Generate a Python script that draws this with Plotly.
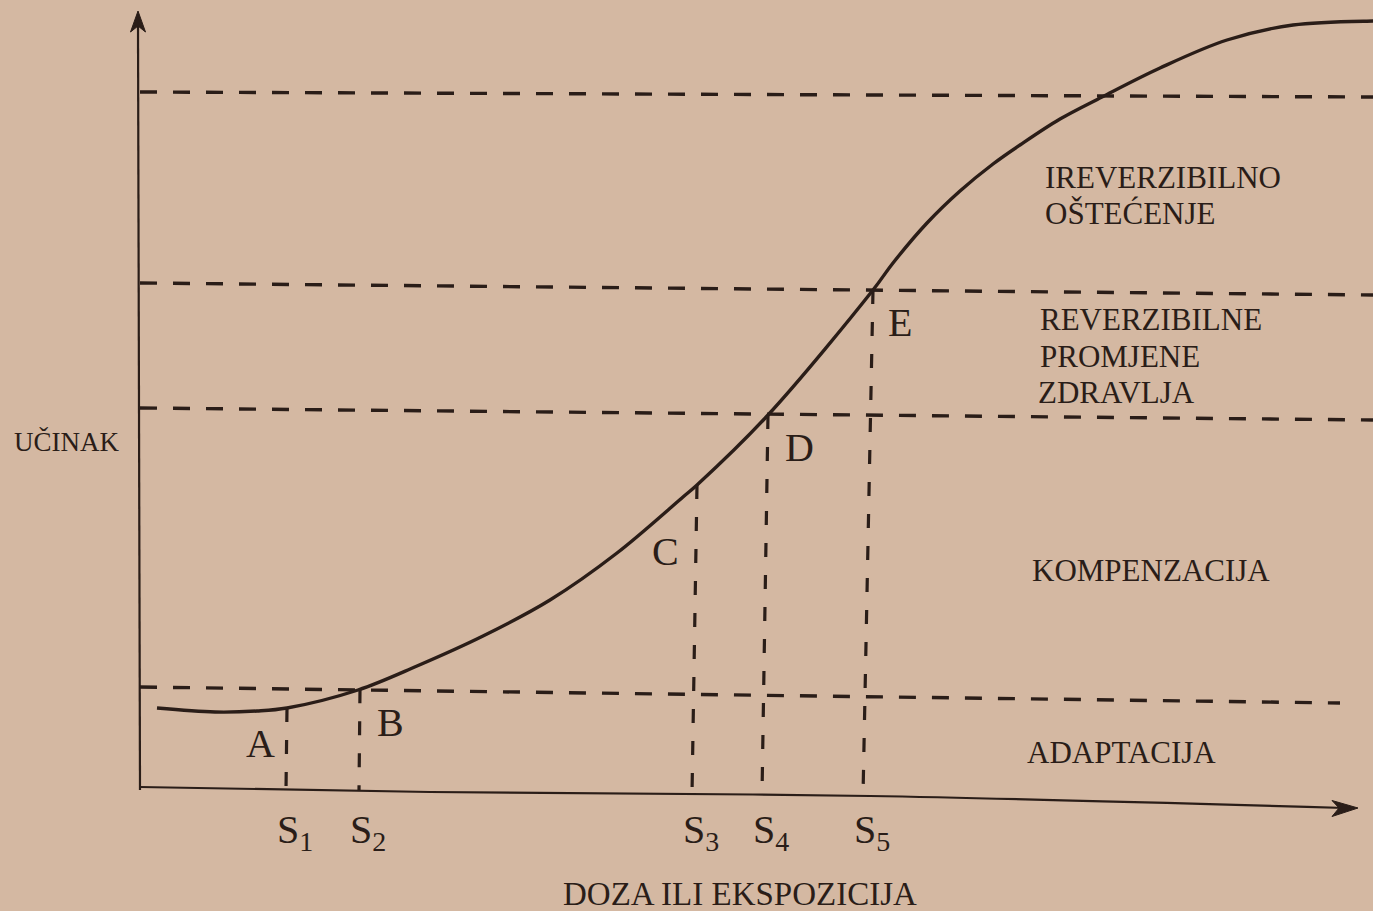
import numpy as np
import plotly.graph_objects as go

# Dose-response curve: dose (x) vs. effect (y), arbitrary units
dose = [0.14, 0.72, 1.14, 1.44, 2.15, 2.74, 3.40, 4.07, 4.74, 5.40, 5.54, 6.25,
        7.30, 7.50, 7.84, 8.17, 8.50, 8.77, 9.17, 9.59, 10.17, 10.84, 11.50, 12.30, 12.45]
effect = [0.82, 0.78, 0.79, 0.82, 1.00, 1.24, 1.54, 1.90, 2.37, 2.93, 3.05, 3.75,
          5.00, 5.27, 5.67, 5.99, 6.26, 6.45, 6.71, 6.93, 7.22, 7.50, 7.65, 7.69, 7.69]

# Effect thresholds separating the zones (horizontal dashed lines)
threshold_effect = [6.98, 5.07, 3.82, 1.03]
threshold_end = [12.30, 12.30, 12.30, 11.97]
threshold_sag = [0.05, 0.12, 0.12, 0.16]      # page sag at the right end

# Characteristic doses S1..S5 and the points A..E on the curve
s_dose = [1.44, 2.17, 5.54, 6.25, 7.30]
s_labels = ["S<sub>1</sub>", "S<sub>2</sub>", "S<sub>3</sub>", "S<sub>4</sub>", "S<sub>5</sub>"]
point_labels = ["A", "B", "C", "D", "E"]
s_foot_shift = [-0.01, -0.01, -0.05, -0.06, -0.10]

# Zone names
zone_lines = ["IREVERZIBILNO", "OŠTEĆENJE", "REVERZIBILNE", "PROMJENE", "ZDRAVLJA",
              "KOMPENZACIJA", "ADAPTACIJA"]

x_title = "DOZA ILI EKSPOZICIJA"
y_title = "UČINAK"

INK = "#2a1d18"
PAPER = "#d4b8a2"
FONT = "Liberation Serif, Times New Roman, serif"

# x-axis baseline as printed (slightly sagging toward the right)
axis_x = [-0.03, 2.87, 7.27, 12.02]
axis_y = [0.03, -0.02, -0.06, -0.18]

fig = go.Figure()

# threshold lines
for yv, xe, sag in zip(threshold_effect, threshold_end, threshold_sag):
    fig.add_trace(go.Scatter(
        x=[-0.03, xe], y=[yv, yv - sag], mode="lines",
        line=dict(color=INK, width=3.4, dash="17px,16px"),
        hoverinfo="skip", showlegend=False))

# vertical drop lines from the curve to the dose axis
s_effect = np.interp(s_dose, dose, effect)
for sx, sy, fs in zip(s_dose, s_effect, s_foot_shift):
    foot_x = sx + fs
    foot_y = float(np.interp(foot_x, axis_x, axis_y))
    fig.add_trace(go.Scatter(
        x=[sx, foot_x], y=[sy, foot_y], mode="lines",
        line=dict(color=INK, width=3.2, dash="14px,18px"),
        hoverinfo="skip", showlegend=False))

# dose-response curve
fig.add_trace(go.Scatter(
    x=dose, y=effect, mode="lines",
    line=dict(color=INK, width=3.4, shape="spline", smoothing=1.0),
    hoverinfo="skip", showlegend=False))

# axes lines
fig.add_trace(go.Scatter(
    x=axis_x, y=axis_y, mode="lines",
    line=dict(color=INK, width=2.2, shape="spline", smoothing=1.0),
    hoverinfo="skip", showlegend=False))
fig.add_trace(go.Scatter(
    x=[-0.03, -0.05], y=[0.0, 7.64], mode="lines",
    line=dict(color=INK, width=2.2), hoverinfo="skip", showlegend=False))

# arrowheads
fig.add_shape(type="path", xref="x", yref="y",
              path="M -0.05,7.79 L -0.125,7.58 L -0.05,7.64 L 0.025,7.58 Z",
              fillcolor=INK, line=dict(color=INK, width=1))
fig.add_shape(type="path", xref="x", yref="y",
              path="M 12.15,-0.18 L 11.89,-0.105 L 11.96,-0.18 L 11.89,-0.265 Z",
              fillcolor=INK, line=dict(color=INK, width=1))

# point letters A..E
point_shift = [(-27, -35), (30, -33), (-32, -66), (31, -32), (27, -32)]
for lab, sx, sy, (dx, dy) in zip(point_labels, s_dose, s_effect, point_shift):
    fig.add_annotation(x=sx, y=sy, text=lab, showarrow=False,
                       xshift=dx, yshift=dy,
                       font=dict(family=FONT, size=40, color=INK))

# S labels beneath the axis
for lab, sx, fs in zip(s_labels, s_dose, s_foot_shift):
    fig.add_annotation(x=sx + fs, y=-0.42, text=lab, showarrow=False,
                       xshift=9, xanchor="center", yanchor="middle",
                       font=dict(family=FONT, size=40, color=INK))

# zone names (left aligned)
zone_pos = [(9.00, 6.13), (9.00, 5.77), (8.95, 4.71), (8.95, 4.34), (8.93, 3.98),
            (8.87, 2.20), (8.82, 0.38)]
for txt, (zx, zy) in zip(zone_lines, zone_pos):
    fig.add_annotation(x=zx, y=zy, text=txt, showarrow=False,
                       xanchor="left", yanchor="middle",
                       font=dict(family=FONT, size=31, color=INK))

# axis titles
fig.add_annotation(x=-0.77, y=3.48, text=y_title, showarrow=False,
                   xanchor="center", yanchor="middle",
                   font=dict(family=FONT, size=27, color=INK))
fig.add_annotation(x=5.97, y=-1.04, text=x_title, showarrow=False,
                   xanchor="center", yanchor="middle",
                   font=dict(family=FONT, size=33, color=INK))

fig.update_xaxes(range=[-1.43, 12.30], visible=False, fixedrange=True)
fig.update_yaxes(range=[-1.21, 7.90], visible=False, fixedrange=True)
fig.update_layout(
    width=1373, height=911,
    margin=dict(l=0, r=0, t=0, b=0),
    paper_bgcolor=PAPER, plot_bgcolor=PAPER,
    showlegend=False,
)

fig.write_html("out.html")
